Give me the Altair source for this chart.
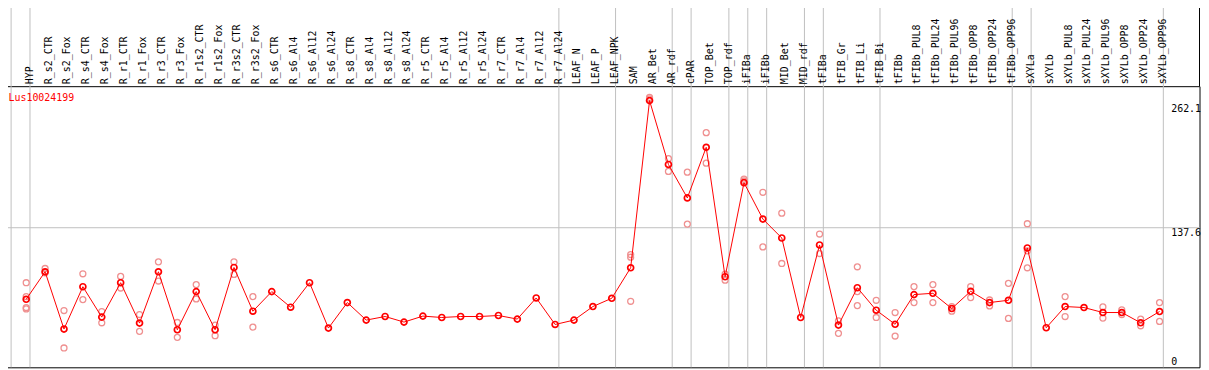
import altair as alt
import pandas as pd

gene = "Lus10024199"

categories = [
    "HYP", "R_s2_CTR", "R_s2_Fox", "R_s4_CTR", "R_s4_Fox", "R_r1_CTR", "R_r1_Fox",
    "R_r3_CTR", "R_r3_Fox", "R_r1s2_CTR", "R_r1s2_Fox", "R_r3s2_CTR", "R_r3s2_Fox",
    "R_s6_CTR", "R_s6_Al4", "R_s6_Al12", "R_s6_Al24", "R_s8_CTR", "R_s8_Al4",
    "R_s8_Al12", "R_s8_Al24", "R_r5_CTR", "R_r5_Al4", "R_r5_Al12", "R_r5_Al24",
    "R_r7_CTR", "R_r7_Al4", "R_r7_Al12", "R_r7_Al24", "LEAF_N", "LEAF_P", "LEAF_NPK",
    "SAM", "AR_Bet", "AR_rdf", "cPAR", "TOP_Bet", "TOP_rdf", "iFIBa", "iFIBb",
    "MID_Bet", "MID_rdf", "tFIBa", "tFIB_Gr", "tFIB_Li", "tFIB_Bi", "tFIBb",
    "tFIBb_PUL8", "tFIBb_PUL24", "tFIBb_PUL96", "tFIBb_OPP8", "tFIBb_OPP24",
    "tFIBb_OPP96", "sXYLa", "sXYLb", "sXYLb_PUL8", "sXYLb_PUL24", "sXYLb_PUL96",
    "sXYLb_OPP8", "sXYLb_OPP24", "sXYLb_OPP96",
]

means = [
    65.8, 93.4, 35.9, 78.4, 47.9, 82.4, 41.9, 93.4, 35.2, 73.5, 35.2, 97.7, 53.8,
    73.5, 57.8, 82.4, 36.9, 62.5, 44.9, 48.5, 42.9, 48.9, 47.5, 48.5, 48.5, 49.5,
    45.9, 67.1, 40.5, 44.9, 58.5, 66.8, 97.4, 265.2, 201.1, 167.5, 218.3, 88.4,
    182.8, 146.3, 127.3, 47.5, 120.3, 39.9, 77.4, 54.8, 40.7, 70.5, 71.8, 56.5,
    73.8, 62.5, 64.8, 117.3, 37.2, 58.5, 57.5, 52.5, 52.5, 42.2, 53.5,
]

replicates = [
    [82.4, 68.5, 57.5, 56.1], [96.7, 92.4], [54.5, 16.9], [91.4, 65.5], [53.5, 42.2],
    [88.7, 77.1], [50.5, 33.6], [103.4, 84.1], [42.5, 27.6], [80.5, 66.1],
    [39.9, 29.2], [103.4, 90.7], [68.5, 37.9],
    [], [], [], [], [], [], [], [], [], [], [], [], [], [], [], [], [], [], [],
    [110.7, 108.0, 63.8], [268.5, 266.9], [207.0, 194.1], [193.4, 141.3],
    [233.0, 202.4], [91.0, 85.0], [186.4, 184.7], [173.2, 118.3], [152.2, 101.7],
    [], [131.3, 111.7], [44.2, 31.6], [98.4, 73.5, 59.5], [64.8, 47.5],
    [52.5, 28.9], [78.5, 62.5], [80.5, 62.5], [58.5, 53.8], [78.5, 67.5],
    [65.1, 59.1], [81.8, 46.6], [141.6, 114.4, 97.4], [], [68.5, 48.5], [],
    [58.1, 46.9], [55.1, 50.5], [45.9, 39.2], [62.5, 43.6],
]

# group separators: drawn just after these category indices (0 = before the first)
separators_after = [0, 1, 29, 32, 35, 36, 38, 39, 40, 42, 43, 46, 53, 54, 61]
y_ticks = [0, 137.6, 262.1]
grid_values = [137.6]

idx = list(range(1, len(categories) + 1))
df_mean = pd.DataFrame({"idx": idx, "cat": categories, "value": means})
df_rep = pd.DataFrame(
    [(i, v) for i, reps in zip(idx, replicates) for v in reps], columns=["idx", "value"]
)
df_sep = pd.DataFrame({"after": separators_after})
df_grid = pd.DataFrame({"value": grid_values})
df_gene = pd.DataFrame({"name": [gene]})

W = 1206          # plot area width
H = 283           # plot area height
LABEL_H = 85      # header band above the plot holding the column labels
FONT = "DejaVu Sans Mono"

xs = alt.Scale(domain=[-0.3057, 63.115], nice=False, zero=False)
ys = alt.Scale(domain=[-2.49, 279.66], nice=False, zero=False)
yaxis = alt.Axis(
    orient="right", values=y_ticks, title=None, grid=False, ticks=False, tickSize=0,
    domain=False, labelPadding=-29, labelAlign="left",
    labelExpr="toString(datum.value)",
    labelBaseline={"condition": {"test": "datum.value <= 0", "value": "alphabetic"}, "value": "top"},
    labelFont=FONT, labelFontSize=10, labelColor="black", labelOverlap=False,
)

sep = alt.Chart(df_sep).transform_calculate(pos="datum.after + 0.2").mark_rule(
    color="#c0c0c0", strokeWidth=1
).encode(
    x=alt.X("pos:Q", scale=xs, axis=None),
    y=alt.value(-LABEL_H), y2=alt.value(H),
)

header_frame = alt.Chart(df_gene).mark_rule(color="black", strokeWidth=1).encode(
    x=alt.value(W), y=alt.value(-LABEL_H), y2=alt.value(0)
)

labels = alt.Chart(df_mean).mark_text(
    angle=270, align="left", baseline="middle", dy=3.5,
    font=FONT, fontSize=10, color="black"
).encode(x=alt.X("idx:Q", scale=xs, axis=None), y=alt.value(-2), text="cat:N")

grid = alt.Chart(df_grid).mark_rule(color="#c0c0c0", strokeWidth=1).encode(
    y=alt.Y("value:Q", scale=ys, axis=yaxis)
)
reps = alt.Chart(df_rep).mark_point(
    shape="circle", filled=False, size=36, strokeWidth=1.3, color="#ef9090", opacity=1
).encode(x=alt.X("idx:Q", scale=xs, axis=None), y=alt.Y("value:Q", scale=ys, axis=yaxis))
line = alt.Chart(df_mean).mark_line(color="#ff0000", strokeWidth=1).encode(
    x=alt.X("idx:Q", scale=xs, axis=None), y=alt.Y("value:Q", scale=ys, axis=yaxis)
)
pts = alt.Chart(df_mean).mark_point(
    shape="circle", filled=False, size=36, strokeWidth=1.7, color="#ff0000", opacity=1
).encode(x=alt.X("idx:Q", scale=xs, axis=None), y=alt.Y("value:Q", scale=ys, axis=yaxis))
gene_txt = alt.Chart(df_gene).mark_text(
    align="left", baseline="alphabetic", font=FONT, fontSize=10, color="#ff0000"
).encode(x=alt.value(7), y=alt.value(15), text="name:N")

chart = alt.layer(sep, header_frame, labels, grid, reps, line, pts, gene_txt).properties(
    width=W, height=H,
    autosize=alt.AutoSizeParams(type="none"),
    padding={"left": -6.5, "top": 77.5, "right": 1.5, "bottom": 1.5},
).configure_view(stroke="black", strokeWidth=1)

chart.save("out.html", embed_options={"renderer": "svg", "actions": False})
